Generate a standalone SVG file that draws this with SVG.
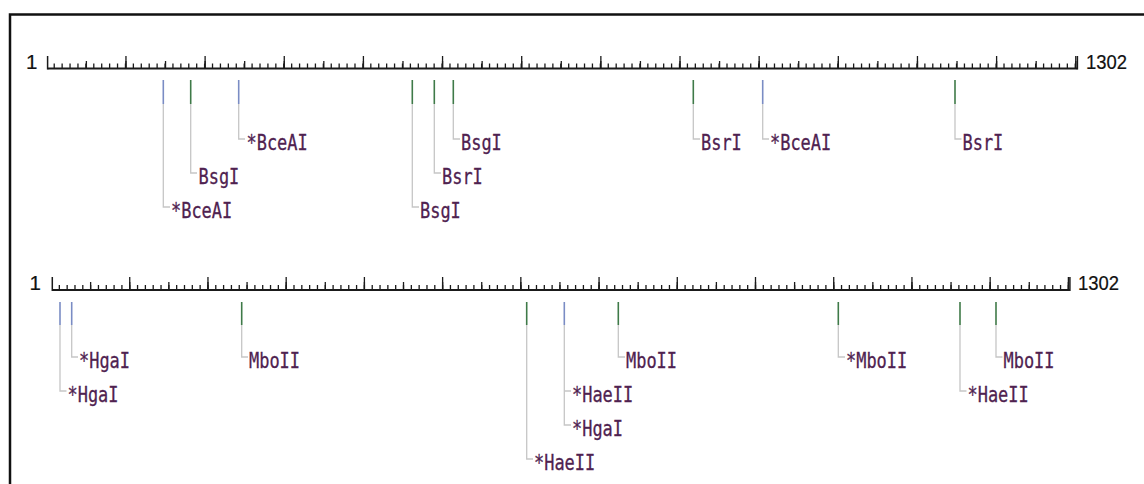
<svg xmlns="http://www.w3.org/2000/svg" width="1144" height="484" viewBox="0 0 1144 484">
<style>
.frame{fill:none;stroke:#111;stroke-width:2.5}
.axis{stroke:#1a1a1a;stroke-width:2;fill:none}
.tick{stroke:#1a1a1a;fill:none}
.end{stroke:#1a1a1a;stroke-width:1.5;fill:none}
.num{font-family:"Liberation Sans",Arial,sans-serif;font-size:20.5px;fill:#111;stroke:#111;stroke-width:0.2}
.lbl{font-family:"DejaVu Sans Mono","Liberation Mono",monospace;font-size:21.5px;fill:#4f2250;stroke:#4f2250;stroke-width:0.3}
.cut-a{stroke:#7a8cc4;stroke-width:1.6}
.cut-b{stroke:#3f7a48;stroke-width:1.6}
.lead{stroke:#c6c6c6;stroke-width:1.3;fill:none}
</style>
<rect width="1144" height="484" fill="#fff"/>
<path class="frame" d="M10,484 V14.5 H1144"/>

<!-- Ruler 1: 1..1302 bp, ticks every 10 bp drawn as dashed thick strokes -->
<g id="ruler1">
  <path class="tick" d="M53.57,66 H1077" stroke-width="5" stroke-dasharray="1.3 6.615"/>
  <path class="tick" d="M85.73,64.75 H1077" stroke-width="7.5" stroke-dasharray="1.3 38.275"/>
  <path class="tick" d="M125.31,62.25 H1077" stroke-width="12.5" stroke-dasharray="1.3 77.85"/>
  <path class="axis" d="M47.6,68.5 H1077.4"/>
  <path class="end" d="M47.6,56 V69.5 M1077.4,56 V69.5"/>
  <text class="num" x="26" y="68.5">1</text>
  <text class="num" x="1086" y="68.5" textLength="41" lengthAdjust="spacingAndGlyphs">1302</text>
</g>

<!-- Ruler 2 -->
<g id="ruler2">
  <path class="tick" d="M58.69,287.5 H1069" stroke-width="5" stroke-dasharray="1.3 6.522"/>
  <path class="tick" d="M89.98,286 H1069" stroke-width="8" stroke-dasharray="1.3 37.81"/>
  <path class="tick" d="M129.09,283.5 H1069.5" stroke-width="13" stroke-dasharray="1.3 76.92"/>
  <path class="axis" d="M52.3,290 H1069.9"/>
  <path class="end" d="M52.3,277 V291 M1069.9,277 V291"/>
  <text class="num" x="29.5" y="289.5">1</text>
  <text class="num" x="1078" y="289.5" textLength="41" lengthAdjust="spacingAndGlyphs">1302</text>
</g>

<!-- Leader lines from cut marks to enzyme labels -->
<g id="connectors">
  <path class="lead" d="M163.3,104 V207 H170"/>
  <path class="lead" d="M190.7,104 V173 H197"/>
  <path class="lead" d="M238.7,104 V139 H245"/>
  <path class="lead" d="M412.3,104 V207 H419"/>
  <path class="lead" d="M434.3,104 V173 H441"/>
  <path class="lead" d="M453.3,104 V139 H460"/>
  <path class="lead" d="M693.3,104 V139 H700"/>
  <path class="lead" d="M762.7,104 V139 H769"/>
  <path class="lead" d="M955,104 V139 H961.5"/>

  <path class="lead" d="M60,325 V391 H66.5"/>
  <path class="lead" d="M71.7,325 V357 H78"/>
  <path class="lead" d="M241.7,325 V357 H248"/>
  <path class="lead" d="M526.7,325 V459 H533"/>
  <path class="lead" d="M564.3,325 V425 H571 M564.3,391 H571"/>
  <path class="lead" d="M618.3,325 V357 H625"/>
  <path class="lead" d="M838.3,325 V357 H845"/>
  <path class="lead" d="M960,325 V391 H966.5"/>
  <path class="lead" d="M996,325 V357 H1002.5"/>
</g>

<!-- Cut sites, ruler 1 -->
<g id="r1-bceai-1"><line class="cut-a" x1="163.3" y1="80" x2="163.3" y2="104"/><text class="lbl" x="171" y="217.5" textLength="61.2" lengthAdjust="spacingAndGlyphs">*BceAI</text></g>
<g id="r1-bsgi-1"><line class="cut-b" x1="190.7" y1="80" x2="190.7" y2="104"/><text class="lbl" x="198.5" y="183.5" textLength="40.8" lengthAdjust="spacingAndGlyphs">BsgI</text></g>
<g id="r1-bceai-2"><line class="cut-a" x1="238.7" y1="80" x2="238.7" y2="104"/><text class="lbl" x="246.5" y="149.5" textLength="61.2" lengthAdjust="spacingAndGlyphs">*BceAI</text></g>
<g id="r1-bsgi-2"><line class="cut-b" x1="412.3" y1="80" x2="412.3" y2="104"/><text class="lbl" x="420" y="217.5" textLength="40.8" lengthAdjust="spacingAndGlyphs">BsgI</text></g>
<g id="r1-bsri-1"><line class="cut-b" x1="434.3" y1="80" x2="434.3" y2="104"/><text class="lbl" x="442" y="183.5" textLength="40.8" lengthAdjust="spacingAndGlyphs">BsrI</text></g>
<g id="r1-bsgi-3"><line class="cut-b" x1="453.3" y1="80" x2="453.3" y2="104"/><text class="lbl" x="461" y="149.5" textLength="40.8" lengthAdjust="spacingAndGlyphs">BsgI</text></g>
<g id="r1-bsri-2"><line class="cut-b" x1="693.3" y1="80" x2="693.3" y2="104"/><text class="lbl" x="701" y="149.5" textLength="40.8" lengthAdjust="spacingAndGlyphs">BsrI</text></g>
<g id="r1-bceai-3"><line class="cut-a" x1="762.7" y1="80" x2="762.7" y2="104"/><text class="lbl" x="770" y="149.5" textLength="61.2" lengthAdjust="spacingAndGlyphs">*BceAI</text></g>
<g id="r1-bsri-3"><line class="cut-b" x1="955" y1="80" x2="955" y2="104"/><text class="lbl" x="962.5" y="149.5" textLength="40.8" lengthAdjust="spacingAndGlyphs">BsrI</text></g>

<!-- Cut sites, ruler 2 -->
<g id="r2-hgai-1"><line class="cut-a" x1="60" y1="302" x2="60" y2="325"/><text class="lbl" x="67.5" y="401.5" textLength="51" lengthAdjust="spacingAndGlyphs">*HgaI</text></g>
<g id="r2-hgai-2"><line class="cut-a" x1="71.7" y1="302" x2="71.7" y2="325"/><text class="lbl" x="79" y="367.5" textLength="51" lengthAdjust="spacingAndGlyphs">*HgaI</text></g>
<g id="r2-mboii-1"><line class="cut-b" x1="241.7" y1="302" x2="241.7" y2="325"/><text class="lbl" x="249" y="367.5" textLength="51" lengthAdjust="spacingAndGlyphs">MboII</text></g>
<g id="r2-haeii-1"><line class="cut-b" x1="526.7" y1="302" x2="526.7" y2="325"/><text class="lbl" x="534" y="469.5" textLength="61.2" lengthAdjust="spacingAndGlyphs">*HaeII</text></g>
<g id="r2-haeii-hgai"><line class="cut-a" x1="564.3" y1="302" x2="564.3" y2="325"/><text class="lbl" x="572" y="401.5" textLength="61.2" lengthAdjust="spacingAndGlyphs">*HaeII</text><text class="lbl" x="572" y="435.5" textLength="51" lengthAdjust="spacingAndGlyphs">*HgaI</text></g>
<g id="r2-mboii-2"><line class="cut-b" x1="618.3" y1="302" x2="618.3" y2="325"/><text class="lbl" x="626" y="367.5" textLength="51" lengthAdjust="spacingAndGlyphs">MboII</text></g>
<g id="r2-mboii-3"><line class="cut-b" x1="838.3" y1="302" x2="838.3" y2="325"/><text class="lbl" x="846" y="367.5" textLength="61.2" lengthAdjust="spacingAndGlyphs">*MboII</text></g>
<g id="r2-haeii-2"><line class="cut-b" x1="960" y1="302" x2="960" y2="325"/><text class="lbl" x="967.5" y="401.5" textLength="61.2" lengthAdjust="spacingAndGlyphs">*HaeII</text></g>
<g id="r2-mboii-4"><line class="cut-b" x1="996" y1="302" x2="996" y2="325"/><text class="lbl" x="1003.5" y="367.5" textLength="51" lengthAdjust="spacingAndGlyphs">MboII</text></g>
</svg>
